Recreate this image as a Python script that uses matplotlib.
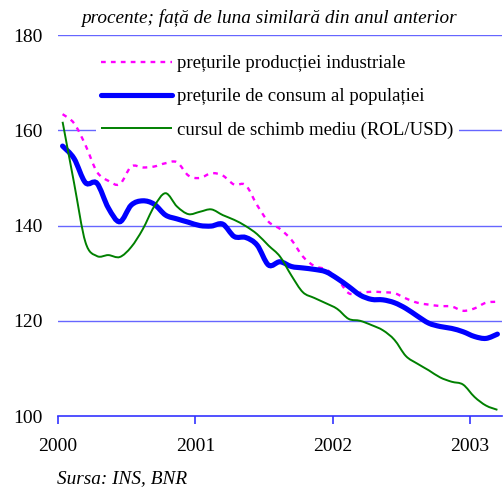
import matplotlib
matplotlib.use("Agg")
import matplotlib.pyplot as plt
from matplotlib.path import Path
from matplotlib.patches import PathPatch
from matplotlib.lines import Line2D
import numpy as np

plt.rcParams['font.family'] = ['Liberation Serif', 'DejaVu Serif']

# months since Jan 2000 (Jan 2000 .. Mar 2003)
months = np.arange(39)
ppi = [163.4, 161.5, 156.9, 151.3, 149.4, 148.7, 152.4, 152.2, 152.4, 153.1,
       153.3, 150.5, 150.0, 151.0, 150.5, 148.6, 148.5, 144.3, 140.8, 139.3,
       137.0, 133.5, 131.5, 130.8, 128.9, 125.8, 125.9, 126.1, 126.0, 125.8,
       124.7, 123.8, 123.4, 123.1, 123.0, 122.1, 122.6, 123.8, 124.0]
cpi = [156.7, 154.1, 149.0, 148.9, 143.7, 140.8, 144.3, 145.2, 144.5, 142.2,
       141.4, 140.7, 140.0, 139.9, 140.3, 137.7, 137.5, 135.9, 131.7, 132.4,
       131.4, 131.1, 130.8, 130.3, 128.9, 127.2, 125.4, 124.5, 124.4, 123.8,
       122.6, 121.0, 119.5, 118.8, 118.4, 117.7, 116.7, 116.3, 117.2]
fx = [161.8, 149.0, 136.5, 133.6, 133.8, 133.4, 135.5, 139.2, 144.0, 146.8,
      144.0, 142.4, 142.9, 143.4, 142.2, 141.2, 139.9, 138.2, 135.8, 133.5,
      129.5, 126.0, 124.8, 123.7, 122.5, 120.4, 120.0, 119.1, 118.0, 116.0,
      112.6, 111.0, 109.6, 108.1, 107.2, 106.6, 104.0, 102.2, 101.3]
labels = ['prețurile producției industriale',
          'prețurile de consum al populației',
          'cursul de schimb mediu (ROL/USD)']
year_ticks = [0, 12, 24, 36]
year_labels = ['2000', '2001', '2002', '2003']
y_ticks = [100, 120, 140, 160, 180]


def smooth_path(xs, ys):
    """Smoothed line through the data points (Bezier segments, like spreadsheet smoothing)."""
    p = np.column_stack([xs, ys]).astype(float)
    n = len(p)
    verts = [p[0]]
    codes = [Path.MOVETO]
    for i in range(n - 1):
        p0 = p[i - 1] if i > 0 else p[i]
        p1 = p[i]
        p2 = p[i + 1]
        p3 = p[i + 2] if i + 2 < n else p[i + 1]
        c1 = p1 + (p2 - p0) / 6.0
        c2 = p2 - (p3 - p1) / 6.0
        verts += [c1, c2, p2]
        codes += [Path.CURVE4] * 3
    return Path(verts, codes)


fig = plt.figure(figsize=(5.03, 4.88), dpi=100)
ax = fig.add_axes([0.1153, 0.1475, 0.8827, 0.7805])

x = months + 0.4
styles = [
    dict(color='#ff00ff', lw=1.7, linestyle=(0, (2.0, 2.2))),
    dict(color='#0000ff', lw=3.7, capstyle='round'),
    dict(color='#008000', lw=1.4),
]
for series, st in zip([ppi, cpi, fx], styles):
    patch = PathPatch(smooth_path(x, series), fill=False, edgecolor=st['color'],
                      lw=st['lw'], linestyle=st.get('linestyle', '-'),
                      capstyle=st.get('capstyle', 'butt'), zorder=3)
    ax.add_patch(patch)

handles = [Line2D([], [], color=st['color'], lw=st['lw'],
                  linestyle=st.get('linestyle', '-'),
                  solid_capstyle='round' if 'capstyle' in st else 'butt')
           for st in styles]

ax.set_xlim(0, 38.8)
ax.set_ylim(100, 180)
ax.set_yticks(y_ticks)
ax.set_xticks(year_ticks)
ax.set_xticklabels(year_labels)
for s in ['top', 'right', 'left']:
    ax.spines[s].set_visible(False)
ax.spines['bottom'].set_color('#3333ff')
ax.spines['bottom'].set_linewidth(1.2)
ax.tick_params(axis='y', length=0, labelsize=14, pad=11)
ax.tick_params(axis='x', length=6, width=1.2, color='#3333ff', labelsize=14, pad=10, direction='out')
for v in y_ticks[1:]:
    ax.axhline(v, color='#6666ff', lw=1.0, zorder=0.5)

leg = ax.legend(handles, labels, loc='upper left', bbox_to_anchor=(0.085, 0.962), frameon=True,
                fontsize=13.5, handlelength=3.75, handletextpad=0.3,
                labelspacing=0.85, borderpad=0.3, borderaxespad=0)
leg.get_frame().set_facecolor('white')
leg.get_frame().set_edgecolor('none')
leg.get_frame().set_alpha(1)
leg.set_zorder(5)

fig.text(0.535, 0.963, 'procente; față de luna similară din anul anterior',
         ha='center', va='center', fontsize=13.9, style='italic')
fig.text(0.113, 0.02, 'Sursa: INS, BNR', ha='left', va='center',
         fontsize=13.9, style='italic')

fig.savefig('out.png', dpi=100)
